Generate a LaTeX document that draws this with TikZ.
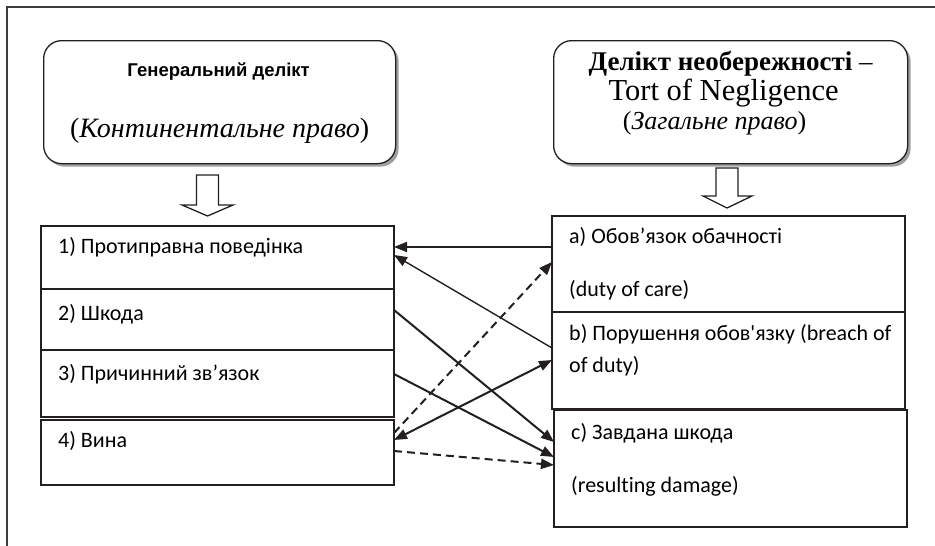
\documentclass[tikz,border=0pt]{standalone}
\usepackage{fontspec}
\setmainfont{Liberation Serif}
\newfontfamily\boxfont[Ligatures=NoCommon]{Carlito}
\newfontfamily\capfont{Liberation Sans}
\usetikzlibrary{arrows.meta,calc,positioning,shadows}
\definecolor{Ink}{HTML}{231F20}
\definecolor{Frame}{HTML}{3C3C3C}
\definecolor{Shade}{HTML}{A0A0A0}
\tikzset{
  headbox/.style={
    rounded corners=18pt, draw=Ink, line width=1.3pt, fill=white,
    drop shadow={shadow xshift=3pt, shadow yshift=-3pt, fill=Shade, opacity=1},
    minimum width=352pt, minimum height=123pt, anchor=north west, inner sep=0pt
  },
  headtext/.style={anchor=base, inner sep=0pt, font=\fontsize{28}{30}\selectfont},
  listbox/.style={
    draw=Ink, line width=1.4pt, minimum width=353pt, anchor=north west,
    inner sep=0pt, outer sep=0pt
  },
  itemtext/.style={anchor=base west, inner sep=0pt, font=\boxfont\fontsize{22}{26}\selectfont},
  hollow/.style={draw=Ink, line width=1.3pt, fill=white, line join=miter},
  link/.style={-{Triangle[length=13pt,width=10pt]}, line width=2pt, draw=Ink},
  thinlink/.style={-{Triangle[length=13pt,width=10pt]}, line width=1.4pt, draw=Ink},
  dashlink/.style={-{Triangle[length=13pt,width=10pt]}, line width=2pt, draw=Ink,
    dash pattern=on 8pt off 5pt},
  bothlink/.style={{Triangle[length=13pt,width=10pt]}-{Triangle[length=13pt,width=10pt]},
    line width=2pt, draw=Ink}
}

\begin{document}
\begin{tikzpicture}[x=1pt, y=-1pt]
  \useasboundingbox (0,0) rectangle (935,546);
  \draw[Frame, line width=1.5pt] (7,546) -- (7,7) -- (935,7);

  % top boxes
  \node[headbox] (gl) at (43,40) {};
  \node[headbox, minimum width=354pt] (gr) at (553,40) {};
  \node[headtext, font=\capfont\bfseries\fontsize{18.5}{20}\selectfont] (glname)
    at ([xshift=-1pt,yshift=-36pt]gl.north) {Генеральний делікт};
  \node[headtext] (glsys) at ([yshift=-97pt]gl.north) {(\textit{Континентальне право})};
  \node[headtext, font=\fontsize{27}{30}\selectfont] (grname)
    at ([yshift=-30pt]gr.north) {\textbf{Делікт необережності} –};
  \node[headtext, font=\fontsize{30.5}{30}\selectfont] (gren)
    at ([xshift=-7pt,yshift=-60pt]gr.north) {Tort of Negligence};
  \node[headtext, font=\fontsize{26}{30}\selectfont] (grsys)
    at ([xshift=-16pt,yshift=-89pt]gr.north) {(\textit{Загальне право})};

  % hollow arrows
  \draw[hollow] (196.5,175) -- (218.5,175) -- (218.5,205) -- (233,205) -- (207.5,216)
    -- (182,205) -- (196.5,205) -- cycle;
  \draw[hollow] (716,168) -- (738,168) -- (738,196) -- (752,196) -- (727,208)
    -- (703,196) -- (716,196) -- cycle;

  % elements, continental law
  \node[listbox, minimum height=63pt] (r1) at (41,226) {};
  \node[listbox, minimum height=61pt, below=0pt of r1] (r2) {};
  \node[listbox, minimum height=67pt, below=0pt of r2] (r3) {};
  \node[listbox, minimum height=65pt, below=3pt of r3] (r4) {};
  \node[itemtext] (t1) at ([xshift=17pt,yshift=-27pt]r1.north west) {1) Протиправна поведінка};
  \node[itemtext] (t2) at ([xshift=17pt,yshift=-31pt]r2.north west) {2) Шкода};
  \node[itemtext] (t3) at ([xshift=17pt,yshift=-30pt]r3.north west) {3) Причинний зв’язок};
  \node[itemtext] (t4) at ([xshift=17pt,yshift=-27pt]r4.north west) {4) Вина};

  % elements, common law
  \node[listbox, minimum height=96pt] (ca) at (552,216) {};
  \node[listbox, minimum height=97pt, below=0pt of ca] (cb) {};
  \node[listbox, minimum height=117pt] (cc) at (554,410) {};
  \node[itemtext] (ta) at ([xshift=17pt,yshift=-27pt]ca.north west) {a) Обов’язок обачності};
  \node[itemtext] (ta2) at ([xshift=17pt,yshift=-80pt]ca.north west) {(duty of care)};
  \node[itemtext] (tb) at ([xshift=17pt,yshift=-28pt]cb.north west) {b) Порушення обов'язку (breach of};
  \node[itemtext] (tb2) at ([xshift=17pt,yshift=-60pt]cb.north west) {of duty)};
  \node[itemtext] (tc) at ([xshift=17pt,yshift=-29pt]cc.north west) {c) Завдана шкода};
  \node[itemtext] (tc2) at ([xshift=17pt,yshift=-82pt]cc.north west) {(resulting damage)};

  % links
  \draw[link] ([yshift=-31pt]ca.north west) -- ([yshift=-21pt]r1.north east);
  \draw[thinlink] ([yshift=-36pt]cb.north west) -- ([yshift=-29pt]r1.north east);
  \draw[link] ([yshift=-21pt]r2.north east) -- ([yshift=-32pt]cc.north west);
  \draw[link] ([yshift=-24pt]r3.north east) -- ([yshift=-47pt]cc.north west);
  \draw[dashlink] ([yshift=-13pt]r4.north east) -- ([yshift=-46pt]ca.north west);
  \draw[bothlink] ([yshift=-20pt]r4.north east) -- ([yshift=-48pt]cb.north west);
  \draw[dashlink] ([yshift=-31pt]r4.north east) -- ([yshift=-55pt]cc.north west);
\end{tikzpicture}
\end{document}
